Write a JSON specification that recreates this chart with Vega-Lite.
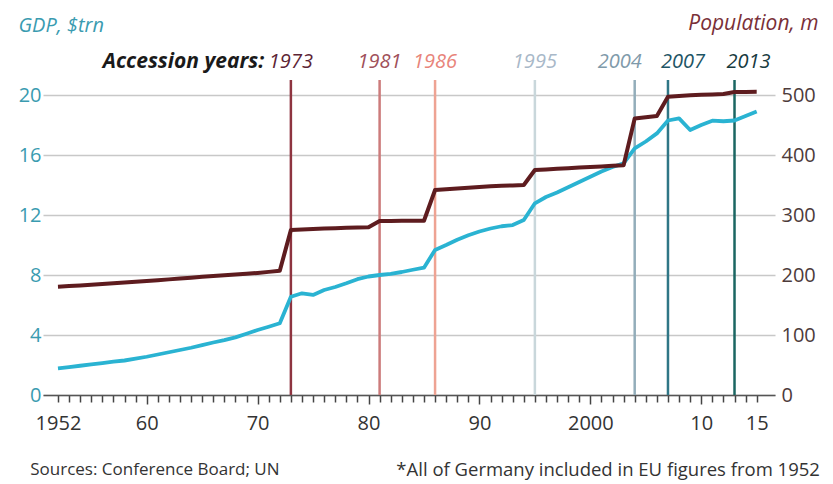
{
  "$schema": "https://vega.github.io/schema/vega-lite/v6.json",
  "width": 732,
  "height": 345,
  "autosize": {"type": "none"},
  "padding": {"left": 43, "top": 50, "right": 58, "bottom": 89},
  "background": "white",
  "config": {
    "view": {"stroke": null},
    "font": "Open Sans",
    "axis": {"labelFont": "Open Sans", "titleFont": "Open Sans"}
  },
  "datasets": {
    "series": [
      {"year": 1952, "gdp": 1.78, "pop": 180.5},
      {"year": 1953, "gdp": 1.86, "pop": 181.5},
      {"year": 1954, "gdp": 1.95, "pop": 182.6},
      {"year": 1955, "gdp": 2.04, "pop": 183.7},
      {"year": 1956, "gdp": 2.13, "pop": 184.9},
      {"year": 1957, "gdp": 2.22, "pop": 186.1},
      {"year": 1958, "gdp": 2.3, "pop": 187.3},
      {"year": 1959, "gdp": 2.42, "pop": 188.6},
      {"year": 1960, "gdp": 2.55, "pop": 189.9},
      {"year": 1961, "gdp": 2.7, "pop": 191.3},
      {"year": 1962, "gdp": 2.85, "pop": 192.7},
      {"year": 1963, "gdp": 3.0, "pop": 194.1},
      {"year": 1964, "gdp": 3.15, "pop": 195.5},
      {"year": 1965, "gdp": 3.33, "pop": 196.9},
      {"year": 1966, "gdp": 3.5, "pop": 198.2},
      {"year": 1967, "gdp": 3.66, "pop": 199.5},
      {"year": 1968, "gdp": 3.84, "pop": 200.8},
      {"year": 1969, "gdp": 4.08, "pop": 202.1},
      {"year": 1970, "gdp": 4.33, "pop": 203.5},
      {"year": 1971, "gdp": 4.55, "pop": 205.2},
      {"year": 1972, "gdp": 4.78, "pop": 207},
      {"year": 1973, "gdp": 6.55, "pop": 275},
      {"year": 1974, "gdp": 6.78, "pop": 276},
      {"year": 1975, "gdp": 6.67, "pop": 276.8},
      {"year": 1976, "gdp": 7.0, "pop": 277.5},
      {"year": 1977, "gdp": 7.2, "pop": 278},
      {"year": 1978, "gdp": 7.45, "pop": 278.6},
      {"year": 1979, "gdp": 7.72, "pop": 279.1},
      {"year": 1980, "gdp": 7.9, "pop": 279.5},
      {"year": 1981, "gdp": 8.0, "pop": 290},
      {"year": 1982, "gdp": 8.08, "pop": 290.2},
      {"year": 1983, "gdp": 8.2, "pop": 290.3},
      {"year": 1984, "gdp": 8.35, "pop": 290.4},
      {"year": 1985, "gdp": 8.49, "pop": 290.5},
      {"year": 1986, "gdp": 9.67, "pop": 341.7},
      {"year": 1987, "gdp": 10.0, "pop": 343},
      {"year": 1988, "gdp": 10.35, "pop": 344.2},
      {"year": 1989, "gdp": 10.65, "pop": 345.5},
      {"year": 1990, "gdp": 10.9, "pop": 346.8},
      {"year": 1991, "gdp": 11.1, "pop": 347.8},
      {"year": 1992, "gdp": 11.25, "pop": 348.6},
      {"year": 1993, "gdp": 11.33, "pop": 349.3},
      {"year": 1994, "gdp": 11.67, "pop": 350},
      {"year": 1995, "gdp": 12.78, "pop": 375},
      {"year": 1996, "gdp": 13.2, "pop": 376},
      {"year": 1997, "gdp": 13.5, "pop": 377},
      {"year": 1998, "gdp": 13.85, "pop": 378},
      {"year": 1999, "gdp": 14.2, "pop": 379},
      {"year": 2000, "gdp": 14.55, "pop": 380},
      {"year": 2001, "gdp": 14.9, "pop": 381},
      {"year": 2002, "gdp": 15.2, "pop": 382},
      {"year": 2003, "gdp": 15.44, "pop": 383},
      {"year": 2004, "gdp": 16.44, "pop": 461},
      {"year": 2005, "gdp": 16.9, "pop": 463},
      {"year": 2006, "gdp": 17.44, "pop": 465},
      {"year": 2007, "gdp": 18.3, "pop": 497},
      {"year": 2008, "gdp": 18.44, "pop": 498.5},
      {"year": 2009, "gdp": 17.67, "pop": 499.5},
      {"year": 2010, "gdp": 18.0, "pop": 500.3},
      {"year": 2011, "gdp": 18.29, "pop": 501},
      {"year": 2012, "gdp": 18.25, "pop": 501.7},
      {"year": 2013, "gdp": 18.3, "pop": 505},
      {"year": 2014, "gdp": 18.6, "pop": 505.2},
      {"year": 2015, "gdp": 18.9, "pop": 505.3}
    ],
    "accession": [
      {"year": 1973, "label": "1973"},
      {"year": 1981, "label": "1981"},
      {"year": 1986, "label": "1986"},
      {"year": 1995, "label": "1995"},
      {"year": 2004, "label": "2004"},
      {"year": 2007, "label": "2007"},
      {"year": 2013, "label": "2013"}
    ],
    "notes": [
      {"year": 1970.6, "text": "Accession years:"},
      {"year": 1949.5, "text": "Sources: Conference Board; UN"},
      {"year": 2020.7, "text": "*All of Germany included in EU figures from 1952"}
    ]
  },
  "encoding": {
    "x": {
      "field": "year", "type": "quantitative",
      "scale": {"domain": [1950.65, 2016.65], "nice": false, "zero": false},
      "axis": {
        "title": null,
        "format": "d",
        "values": [1952,1953,1954,1955,1956,1957,1958,1959,1960,1961,1962,1963,1964,1965,1966,1967,1968,1969,1970,1971,1972,1973,1974,1975,1976,1977,1978,1979,1980,1981,1982,1983,1984,1985,1986,1987,1988,1989,1990,1991,1992,1993,1994,1995,1996,1997,1998,1999,2000,2001,2002,2003,2004,2005,2006,2007,2008,2009,2010,2011,2012,2013,2014,2015],
        "labelExpr": "(datum.value == 1952 || datum.value == 2000) ? datum.label : ((datum.value % 10 == 0 || datum.value == 2015) ? substring(datum.label, 2) : '')",
        "labelOverlap": false,
        "labelFontSize": 20,
        "labelColor": "#333333",
        "labelPadding": {"condition": {"test": "datum.value % 10 == 0", "value": 9}, "value": 11},
        "ticks": true,
        "tickSize": {"condition": {"test": "datum.value % 10 == 0", "value": 9}, "value": 7},
        "tickColor": "#444444",
        "tickWidth": 1.5,
        "tickOpacity": 1,
        "domainColor": "#555555",
        "domainWidth": 1.5,
        "grid": false
      }
    }
  },
  "layer": [
    {
      "layer": [
        {
          "data": {"name": "accession"},
          "mark": {"type": "rule", "strokeWidth": 2.5},
          "encoding": {
            "y": {"datum": 0, "type": "quantitative"},
            "y2": {"datum": 21.0},
            "stroke": {
              "field": "label", "type": "nominal", "legend": null,
              "scale": {
                "domain": ["1973", "1981", "1986", "1995", "2004", "2007", "2013"],
                "range": ["#8e3440", "#cc7b7b", "#eea393", "#c9d7db", "#93adba", "#2f7686", "#1b6662"]
              }
            }
          }
        },
        {
          "data": {"name": "accession"},
          "transform": [{"filter": "datum.year < 2004"}],
          "mark": {"type": "text", "fontStyle": "italic", "fontSize": 20, "baseline": "middle", "align": "center"},
          "encoding": {
            "y": {"datum": 22.17, "type": "quantitative"},
            "text": {"field": "label"},
            "fill": {
              "field": "label", "type": "nominal", "legend": null,
              "scale": {
                "domain": ["1973", "1981", "1986", "1995", "2004", "2007", "2013"],
                "range": ["#5c2434", "#a0505a", "#e8847a", "#a8b8c8", "#7f9aaa", "#1e5565", "#173a40"]
              }
            }
          }
        },
        {
          "data": {"name": "accession"},
          "transform": [{"filter": "datum.year == 2004"}],
          "mark": {"type": "text", "fontStyle": "italic", "fontSize": 20, "baseline": "middle", "align": "right", "dx": 7},
          "encoding": {
            "y": {"datum": 22.17, "type": "quantitative"},
            "text": {"field": "label"},
            "fill": {"field": "label", "type": "nominal", "legend": null}
          }
        },
        {
          "data": {"name": "accession"},
          "transform": [{"filter": "datum.year == 2007"}],
          "mark": {"type": "text", "fontStyle": "italic", "fontSize": 20, "baseline": "middle", "align": "left", "dx": -7},
          "encoding": {
            "y": {"datum": 22.17, "type": "quantitative"},
            "text": {"field": "label"},
            "fill": {"field": "label", "type": "nominal", "legend": null}
          }
        },
        {
          "data": {"name": "accession"},
          "transform": [{"filter": "datum.year == 2013"}],
          "mark": {"type": "text", "fontStyle": "italic", "fontSize": 20, "baseline": "middle", "align": "center", "dx": 14},
          "encoding": {
            "y": {"datum": 22.17, "type": "quantitative"},
            "text": {"field": "label"},
            "fill": {"field": "label", "type": "nominal", "legend": null}
          }
        },
        {
          "data": {"name": "notes"},
          "transform": [{"filter": "datum.text == 'Accession years:'"}],
          "mark": {"type": "text", "fontStyle": "italic", "fontWeight": "bold", "fontSize": 21, "baseline": "middle", "align": "right", "color": "#1a1a1a"},
          "encoding": {
            "y": {"datum": 22.17, "type": "quantitative"},
            "text": {"field": "text"}
          }
        },
        {
          "data": {"name": "notes"},
          "transform": [{"filter": "datum.text == 'Sources: Conference Board; UN'"}],
          "mark": {"type": "text", "fontSize": 17, "baseline": "middle", "align": "left", "color": "#333333"},
          "encoding": {
            "y": {"datum": -5.0, "type": "quantitative"},
            "text": {"field": "text"}
          }
        },
        {
          "data": {"name": "notes"},
          "transform": [{"filter": "indexof(datum.text, 'Germany') >= 0"}],
          "mark": {"type": "text", "fontSize": 18.5, "baseline": "middle", "align": "right", "color": "#333333"},
          "encoding": {
            "y": {"datum": -5.0, "type": "quantitative"},
            "text": {"field": "text"}
          }
        },
        {
          "data": {"name": "series"},
          "mark": {"type": "line", "color": "#2ab3d2", "strokeWidth": 3.8, "strokeJoin": "round"},
          "encoding": {
            "y": {
              "field": "gdp", "type": "quantitative",
              "scale": {"domain": [0, 23], "nice": false, "zero": true},
              "axis": {
                "title": "GDP, $trn",
                "titleAngle": 0,
                "titleAlign": "left",
                "titleBaseline": "middle",
                "titleX": -25,
                "titleY": -25,
                "titleFontSize": 20,
                "titleFontStyle": "italic",
                "titleFontWeight": "normal",
                "titleColor": "#3a9bb0",
                "values": [0, 4, 8, 12, 16, 20],
                "labelFontSize": 20,
                "labelColor": "#3a9bb0",
                "labelPadding": 2,
                "ticks": false,
                "domain": false,
                "grid": true,
                "gridColor": "#c8c8c8",
                "gridWidth": 1.6
              }
            }
          }
        }
      ]
    },
    {
      "data": {"name": "series"},
      "mark": {"type": "line", "color": "#5e1c1f", "strokeWidth": 4, "strokeJoin": "round"},
      "encoding": {
        "y": {
          "field": "pop", "type": "quantitative",
          "scale": {"domain": [0, 575], "nice": false, "zero": true},
          "axis": {
            "orient": "right",
            "title": "Population, m",
            "titleAngle": 0,
            "titleAlign": "right",
            "titleBaseline": "middle",
            "titleX": 43,
            "titleY": -27,
            "titleFontSize": 21,
            "titleFontStyle": "italic",
            "titleFontWeight": "normal",
            "titleColor": "#7a3038",
            "values": [0, 100, 200, 300, 400, 500],
            "labelFontSize": 20,
            "labelColor": "#4d3b3b",
            "labelPadding": 6,
            "ticks": false,
            "domain": false,
            "grid": false
          }
        }
      }
    }
  ],
  "resolve": {"scale": {"y": "independent"}}
}
